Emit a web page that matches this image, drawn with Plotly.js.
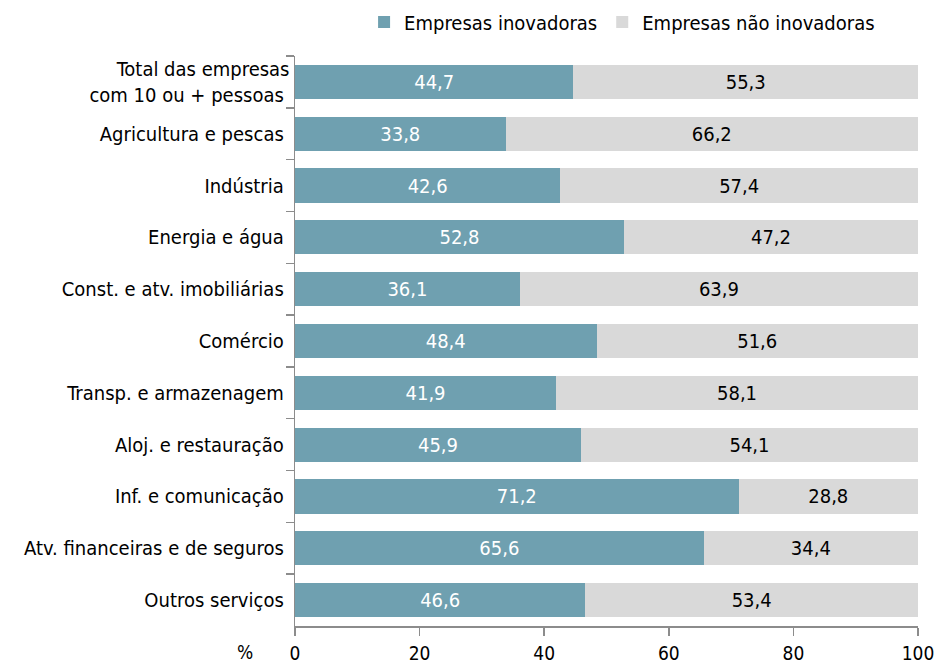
<!DOCTYPE html>
<html>
<head>
<meta charset="utf-8">
<script src="https://cdn.plot.ly/plotly-3.0.1.min.js"></script>
<style>html,body{margin:0;padding:0;background:#fff}</style>
</head>
<body>
<div id="chart" style="width:936px;height:666px"></div>
<script>
const categories = [
  "Total das empresas<br>com 10 ou + pessoas",
  "Agricultura e pescas",
  "Indústria",
  "Energia e água",
  "Const. e atv. imobiliárias",
  "Comércio",
  "Transp. e armazenagem",
  "Aloj. e restauração",
  "Inf. e comunicação",
  "Atv. financeiras e de seguros",
  "Outros serviços"
];
const inovadoras = [44.7, 33.8, 42.6, 52.8, 36.1, 48.4, 41.9, 45.9, 71.2, 65.6, 46.6];
const naoInovadoras = [55.3, 66.2, 57.4, 47.2, 63.9, 51.6, 58.1, 54.1, 28.8, 34.4, 53.4];
const xTicks = [0, 20, 40, 60, 80, 100];

const fmt = v => v.toFixed(1).replace('.', ',');
const font = "'DejaVu Sans Condensed', Tahoma, 'DejaVu Sans', sans-serif";
const fs = 20;

const traces = [
  {
    type: 'bar', orientation: 'h', name: 'Empresas inovadoras',
    y: categories, x: inovadoras, text: inovadoras.map(fmt),
    textposition: 'inside', insidetextanchor: 'middle',
    textfont: {color: '#ffffff', size: fs, family: font},
    marker: {color: '#6fa0b0'}, hoverinfo: 'x'
  },
  {
    type: 'bar', orientation: 'h', name: 'Empresas não inovadoras',
    y: categories, x: naoInovadoras, text: naoInovadoras.map(fmt),
    textposition: 'inside', insidetextanchor: 'middle',
    textfont: {color: '#000000', size: fs, family: font},
    marker: {color: '#d9d9d9'}, hoverinfo: 'x'
  }
];

const layout = {
  width: 936, height: 666,
  barmode: 'stack', bargap: 0.34,
  margin: {l: 295, r: 18, t: 56, b: 40},
  font: {family: font, size: fs, color: '#000'},
  paper_bgcolor: '#fff', plot_bgcolor: '#fff',
  showlegend: true,
  legend: {orientation: 'h', x: 0.525, xanchor: 'center',
           yref: 'container', y: 0.967, yanchor: 'middle',
           font: {size: fs, family: font}, traceorder: 'normal', itemwidth: 30},
  xaxis: {
    range: [0, 100], tickvals: xTicks, ticktext: xTicks.map(String),
    showgrid: false, zeroline: false, showline: true, linecolor: '#8c8c8c', linewidth: 1.5,
    ticks: 'outside', ticklen: 8, tickcolor: '#8c8c8c', tickwidth: 1.5,
    ticklabelstandoff: 2,
    tickfont: {size: 19, family: font}, fixedrange: true
  },
  yaxis: {
    autorange: 'reversed', type: 'category',
    showgrid: false, showline: true, linecolor: '#8c8c8c', linewidth: 1.5,
    ticks: 'outside', tickson: 'boundaries', ticklen: 8, tickcolor: '#8c8c8c', tickwidth: 1.5,
    tickfont: {size: fs, family: font}, ticksuffix: ' ', fixedrange: true
  },
  annotations: [
    {text: '%', xref: 'paper', yref: 'paper', x: -0.08, y: 0, yshift: -26,
     xanchor: 'center', yanchor: 'middle', showarrow: false, font: {size: 19, family: font}}
  ]
};

Plotly.newPlot('chart', traces, layout, {displayModeBar: false, staticPlot: true});
</script>
</body>
</html>
